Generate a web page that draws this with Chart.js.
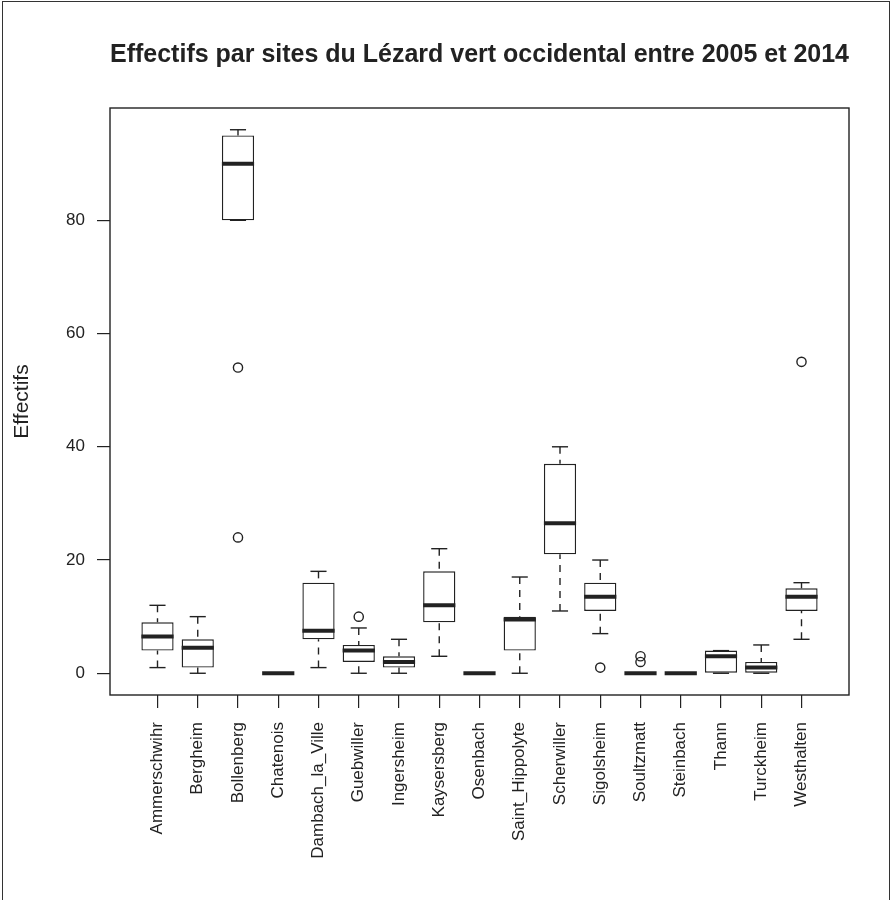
<!DOCTYPE html>
<html>
<head>
<meta charset="utf-8">
<script src="https://cdn.jsdelivr.net/npm/chart.js@4.4.1/dist/chart.umd.min.js"></script>
<style>
  html, body { margin: 0; padding: 0; background: #fff; }
  #wrap { position: relative; width: 894px; height: 900px; overflow: hidden; }
  #wrap canvas { position: absolute; left: 0; top: 0; }
  #frame { position: absolute; left: 2px; top: 1px; width: 888px; height: 910px;
           border: 1.5px solid #333; pointer-events: none; box-sizing: border-box; }
</style>
</head>
<body>
<div id="wrap">
  <canvas id="chart" width="894" height="900"></canvas>
  <div id="frame"></div>
</div>
<script>
// Sites and five-number summaries (lower whisker, Q1, median, Q3, upper whisker)
const sites = ["Ammerschwihr", "Bergheim", "Bollenberg", "Chatenois", "Dambach_la_Ville",
  "Guebwiller", "Ingersheim", "Kaysersberg", "Osenbach", "Saint_Hippolyte", "Scherwiller",
  "Sigolsheim", "Soultzmatt", "Steinbach", "Thann", "Turckheim", "Westhalten"];
const whiskerLow  = [1, 0, 80, 0, 1, 0, 0, 3, 0, 0, 11, 7, 0, 0, 0, 0, 6];
const q1          = [4, 1, 80, 0, 6, 2, 1, 9, 0, 4, 21, 11, 0, 0, 0, 0, 11];
const medians     = [6.5, 4.5, 90, 0, 7.5, 4, 2, 12, 0, 9.5, 26.5, 13.5, 0, 0, 3, 1, 13.5];
const q3          = [9, 6, 95, 0, 16, 5, 3, 18, 0, 10, 37, 16, 0, 0, 4, 2, 15];
const whiskerHigh = [12, 10, 96, 0, 18, 8, 6, 22, 0, 17, 40, 20, 0, 0, 4, 5, 16];

// Outlying yearly counts (site index, value)
const outlierSite  = [2, 2, 5, 11, 12, 12, 16];
const outlierValue = [54, 24, 10, 1, 2, 3, 55];

const yTicks = [0, 20, 40, 60, 80];

const INK = '#222';
const FONT = "'Liberation Sans', Arial, Helvetica, sans-serif";

// Whiskers, staples, medians and the plot frame
const boxDecor = {
  id: 'boxDecor',
  beforeDatasetsDraw(chart) {
    const xs = chart.scales.x, ys = chart.scales.y;
    const bars = chart.getDatasetMeta(0).data;
    const ctx = chart.ctx;
    ctx.save();
    ctx.strokeStyle = INK;
    ctx.lineWidth = 1.4;
    sites.forEach((s, i) => {
      const x = xs.getPixelForValue(i + 1);
      const w = bars[i].width;
      const pairs = [[whiskerLow[i], q1[i]], [whiskerHigh[i], q3[i]]];
      pairs.forEach(([end, edge]) => {
        const yEnd = ys.getPixelForValue(end);
        const yEdge = ys.getPixelForValue(edge);
        ctx.setLineDash([7, 6]);
        ctx.beginPath();
        ctx.moveTo(x, yEnd);
        ctx.lineTo(x, yEdge);
        ctx.stroke();
        ctx.setLineDash([]);
        ctx.beginPath();
        ctx.moveTo(x - w / 4, yEnd);
        ctx.lineTo(x + w / 4, yEnd);
        ctx.stroke();
      });
    });
    ctx.restore();
  },
  afterDatasetsDraw(chart) {
    const xs = chart.scales.x, ys = chart.scales.y;
    const bars = chart.getDatasetMeta(0).data;
    const ctx = chart.ctx;
    ctx.save();
    ctx.strokeStyle = INK;
    ctx.lineWidth = 4;
    ctx.lineCap = 'butt';
    sites.forEach((s, i) => {
      const x = xs.getPixelForValue(i + 1);
      const w = bars[i].width;
      const y = ys.getPixelForValue(medians[i]);
      ctx.beginPath();
      ctx.moveTo(x - w / 2, y);
      ctx.lineTo(x + w / 2, y);
      ctx.stroke();
    });
    const a = chart.chartArea;
    ctx.lineWidth = 1.4;
    ctx.strokeRect(a.left, a.top, a.right - a.left, a.bottom - a.top);
    ctx.restore();
  }
};

new Chart(document.getElementById('chart'), {
  type: 'bar',
  data: {
    datasets: [
      {
        label: 'Boîtes',
        data: sites.map((s, i) => ({ x: i + 1, y: [q1[i], q3[i]] })),
        backgroundColor: '#fff',
        borderColor: INK,
        borderWidth: 1.4,
        borderSkipped: false,
        categoryPercentage: 0.8,
        barPercentage: 1.0
      },
      {
        type: 'scatter',
        label: 'Valeurs extrêmes',
        data: outlierSite.map((s, k) => ({ x: s + 1, y: outlierValue[k] })),
        pointStyle: 'circle',
        pointRadius: 4.6,
        pointBorderWidth: 1.4,
        pointBorderColor: INK,
        pointBackgroundColor: 'rgba(255,255,255,0)'
      }
    ]
  },
  options: {
    responsive: false,
    animation: false,
    events: [],
    layout: { padding: { left: 0, top: 0, right: 45, bottom: 0 } },
    plugins: {
      legend: { display: false },
      tooltip: { enabled: false },
      title: {
        display: true,
        fullSize: false,
        text: 'Effectifs par sites du Lézard vert occidental entre 2005 et 2014',
        color: INK,
        font: { family: FONT, size: 25, weight: 'bold', lineHeight: 1.2 },
        padding: { top: 40, bottom: 38 }
      }
    },
    scales: {
      x: {
        type: 'linear',
        min: -0.18,
        max: 18.18,
        offset: false,
        afterBuildTicks: (scale) => { scale.ticks = sites.map((s, i) => ({ value: i + 1 })); },
        afterFit: (scale) => { scale.height = 205; },
        grid: { display: true, offset: false, drawOnChartArea: false, drawTicks: true,
                tickLength: 13, color: INK, lineWidth: 1.2 },
        border: { display: false },
        ticks: {
          autoSkip: false,
          minRotation: 90,
          maxRotation: 90,
          padding: 14,
          color: INK,
          font: { family: FONT, size: 17 },
          callback: (v) => sites[Math.round(v) - 1] || ''
        }
      },
      y: {
        type: 'linear',
        min: -3.84,
        max: 99.84,
        afterBuildTicks: (scale) => { scale.ticks = yTicks.map(v => ({ value: v })); },
        afterFit: (scale) => { scale.width = 110; },
        grid: { display: true, drawOnChartArea: false, drawTicks: true,
                tickLength: 13, color: INK, lineWidth: 1.2 },
        border: { display: false },
        ticks: {
          padding: 12,
          color: INK,
          font: { family: FONT, size: 17 }
        },
        title: {
          display: true,
          text: 'Effectifs',
          color: INK,
          font: { family: FONT, size: 21 },
          padding: { top: 10, bottom: 0 }
        }
      }
    }
  },
  plugins: [boxDecor]
});
</script>
</body>
</html>
